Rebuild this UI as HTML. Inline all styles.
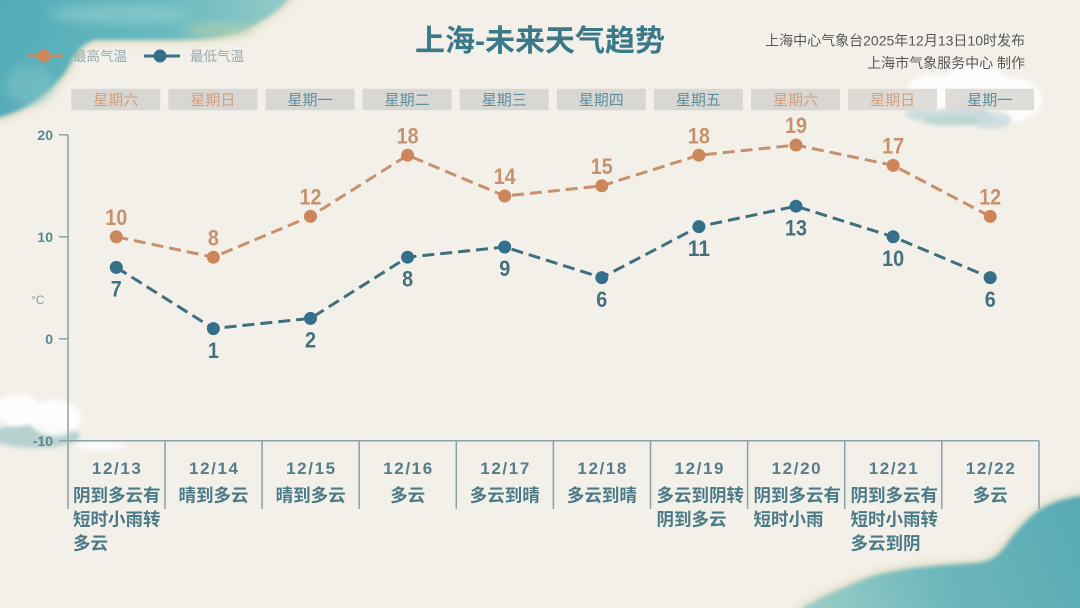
<!DOCTYPE html>
<html><head><meta charset="utf-8">
<style>
html,body{margin:0;padding:0;background:#f3f0ea;}
svg{display:block;}
text{font-family:"Liberation Sans","Noto Sans CJK SC",sans-serif;}
</style></head>
<body>
<svg width="1080" height="608" viewBox="0 0 1080 608" xmlns="http://www.w3.org/2000/svg">
<defs>
<filter id="b6" x="-30%" y="-30%" width="160%" height="160%"><feGaussianBlur stdDeviation="5"/></filter>
<filter id="b3" x="-30%" y="-30%" width="160%" height="160%"><feGaussianBlur stdDeviation="2"/></filter>
<linearGradient id="tl" gradientUnits="userSpaceOnUse" x1="0" y1="0" x2="280" y2="60">
<stop offset="0" stop-color="#52abb7"/><stop offset="0.55" stop-color="#66b8c0"/><stop offset="1" stop-color="#96cbc7"/>
</linearGradient>
<linearGradient id="br" gradientUnits="userSpaceOnUse" x1="820" y1="608" x2="1080" y2="500">
<stop offset="0" stop-color="#96ccc7"/><stop offset="0.45" stop-color="#6cb6bb"/><stop offset="1" stop-color="#58aab5"/>
</linearGradient>
</defs>
<rect width="1080" height="608" fill="#f3f0ea"/>

<!-- top-left watercolor -->
<path d="M-20,-20 L300,-20 L292,0 C282,12 266,24 248,32 C226,41 200,43 170,43 L95,43 C82,47 78,56 74,66 C66,80 50,94 36,104 C22,113 10,119 -20,125 Z" fill="#dccf9f" opacity="0.55" filter="url(#b6)"/>
<path d="M-20,-20 L296,-20 L288,0 C278,11 262,22 245,30 C224,38 200,40 170,40 L95,40 C82,44 76,52 71,63 C64,77 49,91 35,101 C22,110 10,116 -20,122 Z" fill="url(#tl)" filter="url(#b3)"/>
<ellipse cx="120" cy="14" rx="70" ry="10" fill="#9dd2d1" opacity="0.5" filter="url(#b6)"/>
<ellipse cx="220" cy="30" rx="35" ry="7" fill="#b9d3a6" opacity="0.55" filter="url(#b6)"/>
<ellipse cx="30" cy="85" rx="25" ry="20" fill="#86c6c7" opacity="0.5" filter="url(#b6)"/>

<!-- bottom-right watercolor -->
<path d="M790,630 L796,608 C815,596 838,586 868,574 C900,564 940,562 975,560 C992,558 998,550 1004,542 C1014,528 1028,512 1042,504 C1056,497 1068,494 1100,490 L1100,630 Z" fill="#d8d0a4" opacity="0.55" filter="url(#b6)"/>
<path d="M795,630 L803,608 C820,597 842,588 870,577 C902,567 942,565 976,563 C994,561 1000,553 1006,545 C1016,531 1030,515 1044,507 C1058,500 1069,497 1100,493 L1100,630 Z" fill="url(#br)" filter="url(#b3)"/>

<!-- top-right cloud -->
<ellipse cx="955" cy="114" rx="50" ry="10" fill="#b7cfd4" opacity="0.6" filter="url(#b3)"/>
<ellipse cx="935" cy="92" rx="28" ry="18" fill="#ffffff" opacity="0.9" filter="url(#b3)"/>
<ellipse cx="975" cy="80" rx="30" ry="14" fill="#ffffff" opacity="0.9" filter="url(#b3)"/>
<ellipse cx="1012" cy="100" rx="30" ry="22" fill="#ffffff" opacity="0.85" filter="url(#b3)"/>
<ellipse cx="990" cy="120" rx="22" ry="9" fill="#c4d8dc" opacity="0.7" filter="url(#b3)"/>
<ellipse cx="950" cy="121" rx="28" ry="5" fill="#9fd2c0" opacity="0.45" filter="url(#b3)"/>

<!-- left cloud -->
<ellipse cx="35" cy="436" rx="45" ry="12" fill="#a9cac9" opacity="0.8" filter="url(#b3)"/>
<ellipse cx="18" cy="410" rx="22" ry="16" fill="#ffffff" opacity="0.9" filter="url(#b3)"/>
<ellipse cx="55" cy="418" rx="26" ry="18" fill="#ffffff" opacity="0.9" filter="url(#b3)"/>
<ellipse cx="100" cy="446" rx="25" ry="4" fill="#ffffff" opacity="0.8" filter="url(#b3)"/>

<!-- Title -->
<text x="540" y="51" text-anchor="middle" font-size="30" font-weight="bold" fill="#3b7989">上海-未来天气趋势</text>
<text x="1025" y="45.5" text-anchor="end" font-size="14" fill="#585858">上海中心气象台2025年12月13日10时发布</text>
<text x="1025" y="68" text-anchor="end" font-size="14" fill="#585858">上海市气象服务中心  制作</text>

<!-- Legend -->
<line x1="27" y1="56" x2="63" y2="56" stroke="#d08d62" stroke-width="3"/>
<circle cx="44" cy="56" r="6.5" fill="#cd855a"/>
<text x="73" y="61" font-size="13.5" fill="#97aab0">最高气温</text>
<line x1="144" y1="56" x2="180" y2="56" stroke="#3a6f80" stroke-width="3"/>
<circle cx="160" cy="56" r="6.5" fill="#34708a"/>
<text x="190" y="61" font-size="13.5" fill="#97aab0">最低气温</text>

<!-- Day boxes -->
<g font-size="15" text-anchor="middle">
<rect x="71.3" y="88.8" width="89" height="21.4" rx="1.5" fill="#d9d7d3"/><text x="115.8" y="105" fill="#d3a07c">星期六</text>
<rect x="168.4" y="88.8" width="89" height="21.4" rx="1.5" fill="#d9d7d3"/><text x="212.9" y="105" fill="#d3a07c">星期日</text>
<rect x="265.5" y="88.8" width="89" height="21.4" rx="1.5" fill="#d9d7d3"/><text x="310" y="105" fill="#5f8f9c">星期一</text>
<rect x="362.6" y="88.8" width="89" height="21.4" rx="1.5" fill="#d9d7d3"/><text x="407.1" y="105" fill="#5f8f9c">星期二</text>
<rect x="459.7" y="88.8" width="89" height="21.4" rx="1.5" fill="#d9d7d3"/><text x="504.2" y="105" fill="#5f8f9c">星期三</text>
<rect x="556.8" y="88.8" width="89" height="21.4" rx="1.5" fill="#d9d7d3"/><text x="601.3" y="105" fill="#5f8f9c">星期四</text>
<rect x="653.9" y="88.8" width="89" height="21.4" rx="1.5" fill="#d9d7d3"/><text x="698.4" y="105" fill="#5f8f9c">星期五</text>
<rect x="751" y="88.8" width="89" height="21.4" rx="1.5" fill="#d9d7d3"/><text x="795.5" y="105" fill="#d3a07c">星期六</text>
<rect x="848.1" y="88.8" width="89" height="21.4" rx="1.5" fill="#d9d7d3" opacity="0.85"/><text x="892.6" y="105" fill="#d3a07c">星期日</text>
<rect x="945.2" y="88.8" width="89" height="21.4" rx="1.5" fill="#d9d7d3" opacity="0.85"/><text x="989.7" y="105" fill="#5f8f9c">星期一</text>
</g>

<!-- Axes -->
<g stroke="#8aa2a9" stroke-width="1.5">
<line x1="68" y1="134.8" x2="68" y2="509"/>
<line x1="59" y1="134.8" x2="68" y2="134.8"/>
<line x1="59" y1="236.8" x2="68" y2="236.8"/>
<line x1="59" y1="338.8" x2="68" y2="338.8"/>
<line x1="59" y1="440.8" x2="68" y2="440.8"/>
<line x1="68" y1="440.8" x2="1039.3" y2="440.8"/>
<line x1="165" y1="440.8" x2="165" y2="509"/>
<line x1="262.1" y1="440.8" x2="262.1" y2="509"/>
<line x1="359.2" y1="440.8" x2="359.2" y2="509"/>
<line x1="456.3" y1="440.8" x2="456.3" y2="509"/>
<line x1="553.4" y1="440.8" x2="553.4" y2="509"/>
<line x1="650.5" y1="440.8" x2="650.5" y2="509"/>
<line x1="747.6" y1="440.8" x2="747.6" y2="509"/>
<line x1="844.7" y1="440.8" x2="844.7" y2="509"/>
<line x1="941.8" y1="440.8" x2="941.8" y2="509"/>
<line x1="1039" y1="440.8" x2="1039" y2="509"/>
</g>
<g font-size="14" font-weight="bold" fill="#5b858f" text-anchor="end">
<text x="53" y="140">20</text>
<text x="53" y="242">10</text>
<text x="53" y="344">0</text>
<text x="53" y="446">-10</text>
</g>
<text x="31" y="304" font-size="12" fill="#8a9ca2">°C</text>

<!-- High line -->
<polyline points="116.3,236.8 213.4,257.2 310.5,216.4 407.6,155.2 504.7,196 601.8,185.8 698.9,155.2 796,145 893.1,165.4 990.2,216.4" fill="none" stroke="#c9906e" stroke-width="3" stroke-dasharray="12 6"/>
<!-- Low line -->
<polyline points="116.3,267.4 213.4,328.6 310.5,318.4 407.6,257.2 504.7,247 601.8,277.6 698.9,226.6 796,206.2 893.1,236.8 990.2,277.6" fill="none" stroke="#3f6f7e" stroke-width="3" stroke-dasharray="12 6"/>

<g fill="#cd855a">
<circle cx="116.3" cy="236.8" r="6.5"/><circle cx="213.4" cy="257.2" r="6.5"/><circle cx="310.5" cy="216.4" r="6.5"/><circle cx="407.6" cy="155.2" r="6.5"/><circle cx="504.7" cy="196" r="6.5"/><circle cx="601.8" cy="185.8" r="6.5"/><circle cx="698.9" cy="155.2" r="6.5"/><circle cx="796" cy="145" r="6.5"/><circle cx="893.1" cy="165.4" r="6.5"/><circle cx="990.2" cy="216.4" r="6.5"/>
</g>
<g fill="#34708a">
<circle cx="116.3" cy="267.4" r="6.5"/><circle cx="213.4" cy="328.6" r="6.5"/><circle cx="310.5" cy="318.4" r="6.5"/><circle cx="407.6" cy="257.2" r="6.5"/><circle cx="504.7" cy="247" r="6.5"/><circle cx="601.8" cy="277.6" r="6.5"/><circle cx="698.9" cy="226.6" r="6.5"/><circle cx="796" cy="206.2" r="6.5"/><circle cx="893.1" cy="236.8" r="6.5"/><circle cx="990.2" cy="277.6" r="6.5"/>
</g>

<!-- High labels -->
<g font-size="22" font-weight="bold" fill="#c8916a" text-anchor="middle">
<text x="116.3" y="225" textLength="22" lengthAdjust="spacingAndGlyphs">10</text>
<text x="213.4" y="245.4" textLength="11" lengthAdjust="spacingAndGlyphs">8</text>
<text x="310.5" y="204.6" textLength="22" lengthAdjust="spacingAndGlyphs">12</text>
<text x="407.6" y="143.4" textLength="22" lengthAdjust="spacingAndGlyphs">18</text>
<text x="504.7" y="184.2" textLength="22" lengthAdjust="spacingAndGlyphs">14</text>
<text x="601.8" y="174" textLength="22" lengthAdjust="spacingAndGlyphs">15</text>
<text x="698.9" y="143.4" textLength="22" lengthAdjust="spacingAndGlyphs">18</text>
<text x="796" y="133.2" textLength="22" lengthAdjust="spacingAndGlyphs">19</text>
<text x="893.1" y="153.6" textLength="22" lengthAdjust="spacingAndGlyphs">17</text>
<text x="990.2" y="204.6" textLength="22" lengthAdjust="spacingAndGlyphs">12</text>
</g>
<!-- Low labels -->
<g font-size="22" font-weight="bold" fill="#44707e" text-anchor="middle">
<text x="116.3" y="296.6" textLength="11" lengthAdjust="spacingAndGlyphs">7</text>
<text x="213.4" y="357.8" textLength="11" lengthAdjust="spacingAndGlyphs">1</text>
<text x="310.5" y="347.6" textLength="11" lengthAdjust="spacingAndGlyphs">2</text>
<text x="407.6" y="286.4" textLength="11" lengthAdjust="spacingAndGlyphs">8</text>
<text x="504.7" y="276.2" textLength="11" lengthAdjust="spacingAndGlyphs">9</text>
<text x="601.8" y="306.8" textLength="11" lengthAdjust="spacingAndGlyphs">6</text>
<text x="698.9" y="255.8" textLength="22" lengthAdjust="spacingAndGlyphs">11</text>
<text x="796" y="235.4" textLength="22" lengthAdjust="spacingAndGlyphs">13</text>
<text x="893.1" y="266" textLength="22" lengthAdjust="spacingAndGlyphs">10</text>
<text x="990.2" y="306.8" textLength="11" lengthAdjust="spacingAndGlyphs">6</text>
</g>

<!-- Dates -->
<g font-size="17" font-weight="bold" fill="#567d88" text-anchor="middle">
<text x="116.4" y="474" textLength="49">12/13</text>
<text x="213.5" y="474" textLength="49">12/14</text>
<text x="310.6" y="474" textLength="49">12/15</text>
<text x="407.7" y="474" textLength="49">12/16</text>
<text x="504.8" y="474" textLength="49">12/17</text>
<text x="601.9" y="474" textLength="49">12/18</text>
<text x="699" y="474" textLength="49">12/19</text>
<text x="796.1" y="474" textLength="49">12/20</text>
<text x="893.2" y="474" textLength="49">12/21</text>
<text x="990.3" y="474" textLength="49">12/22</text>
</g>

<!-- Weather -->
<g font-size="17.5" font-weight="bold" fill="#4b7a87">
<text x="73" y="501.5">阴到多云有</text>
<text x="73" y="525.5">短时小雨转</text>
<text x="73" y="549.5">多云</text>
<text x="213.5" y="501.5" text-anchor="middle">晴到多云</text>
<text x="310.6" y="501.5" text-anchor="middle">晴到多云</text>
<text x="407.7" y="501.5" text-anchor="middle">多云</text>
<text x="504.8" y="501.5" text-anchor="middle">多云到晴</text>
<text x="601.9" y="501.5" text-anchor="middle">多云到晴</text>
<text x="656.5" y="501.5">多云到阴转</text>
<text x="656.5" y="525.5">阴到多云</text>
<text x="753.5" y="501.5">阴到多云有</text>
<text x="753.5" y="525.5">短时小雨</text>
<text x="850.5" y="501.5">阴到多云有</text>
<text x="850.5" y="525.5">短时小雨转</text>
<text x="850.5" y="549.5">多云到阴</text>
<text x="990.3" y="501.5" text-anchor="middle">多云</text>
</g>
</svg>
</body></html>
